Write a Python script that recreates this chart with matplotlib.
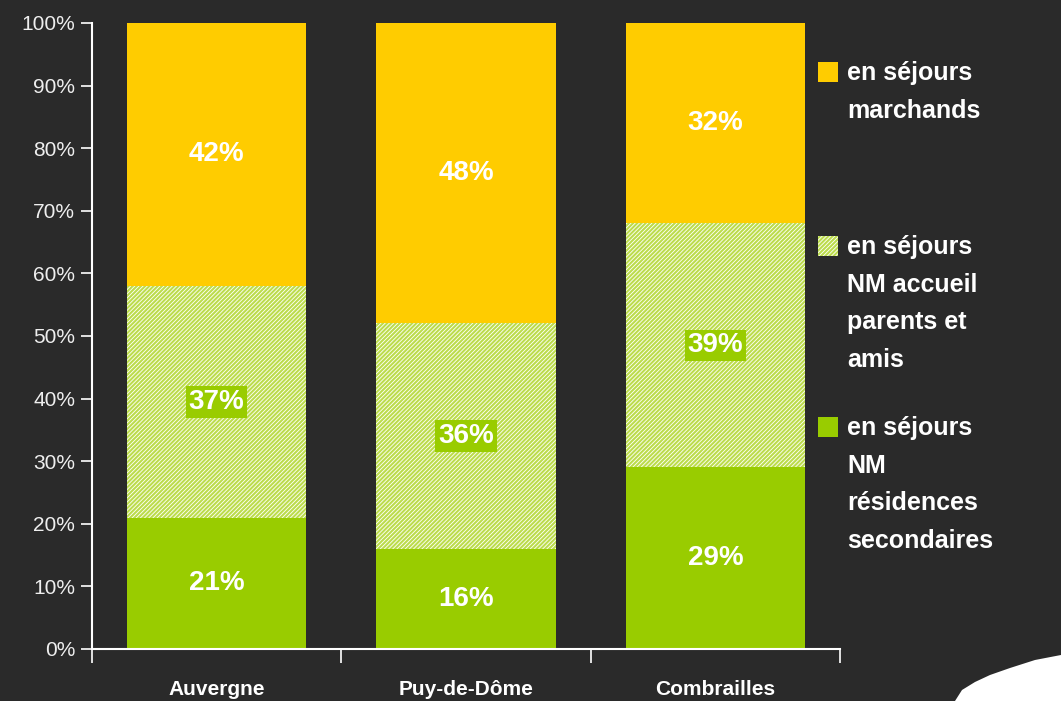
import matplotlib
matplotlib.use("Agg")
import matplotlib.pyplot as plt
from matplotlib.patches import Rectangle, Polygon
import numpy as np

categories = ["Auvergne", "Puy-de-Dôme", "Combrailles"]
series_names = ["en séjours\nNM\nrésidences\nsecondaires",
                "en séjours\nNM accueil\nparents et\namis",
                "en séjours\nmarchands"]
residences = [21, 16, 29]
accueil = [37, 36, 39]
marchands = [42, 48, 32]
yticks = [0, 10, 20, 30, 40, 50, 60, 70, 80, 90, 100]

BG = "#2a2a2a"
GREEN = "#99cc00"
HATCHFACE = "#bcdc4c"
YELLOW = "#ffcc00"

plt.rcParams['font.family'] = ['Liberation Sans', 'DejaVu Sans']
plt.rcParams['hatch.color'] = 'white'
plt.rcParams['hatch.linewidth'] = 0.6

fig = plt.figure(figsize=(10.61, 7.01), dpi=100, facecolor=BG)
ax = fig.add_axes([92/1061, 1-649/701, (840-92)/1061, (649-23)/701])
ax.set_facecolor(BG)

x = np.arange(len(categories))
w = 0.72
ax.bar(x, residences, w, color=GREEN, linewidth=0)
bottom2 = np.array(residences)
ax.bar(x, accueil, w, bottom=bottom2, color=HATCHFACE, hatch='////////', linewidth=0, edgecolor='white')
bottom3 = bottom2 + np.array(accueil)
ax.bar(x, marchands, w, bottom=bottom3, color=YELLOW, linewidth=0)

lab_kw = dict(ha='center', va='center', color='white', fontsize=20, fontweight='bold')
for i in range(len(categories)):
    ax.text(x[i], residences[i]/2, f"{residences[i]}%", **lab_kw)
    ax.text(x[i], bottom2[i] + accueil[i]/2, f"{accueil[i]}%",
            bbox=dict(facecolor=GREEN, edgecolor='none', pad=2), **lab_kw)
    ax.text(x[i], bottom3[i] + marchands[i]/2, f"{marchands[i]}%", **lab_kw)

ax.set_xlim(-0.5, 2.5)
ax.set_ylim(0, 100)
ax.set_yticks(yticks)
ax.set_yticklabels([f"{t}%" for t in yticks], color='#eeeeee', fontsize=15)
ax.set_xticks([-0.5, 0.5, 1.5, 2.5])
ax.set_xticklabels([])
ax.set_xticks(x, minor=True)
ax.set_xticklabels(categories, minor=True, color='white', fontsize=15, fontweight='bold')
ax.tick_params(axis='x', which='major', length=10, width=1.2, color='white', direction='out')
ax.tick_params(axis='x', which='minor', length=0, pad=22)
ax.tick_params(axis='y', length=8, width=1.2, color='white', direction='out', pad=4)
for s in ['top', 'right']:
    ax.spines[s].set_visible(False)
for s in ['left', 'bottom']:
    ax.spines[s].set_color('white')
    ax.spines[s].set_linewidth(1.5)

# legend drawn manually
leg = [(series_names[2], YELLOW, None, 72),
       (series_names[1], HATCHFACE, '////////', 246),
       (series_names[0], GREEN, None, 427)]
for text, col, hatch, ypx in leg:
    r = Rectangle((818/1061, 1-(ypx+10)/701), 20/1061, 20/701, transform=fig.transFigure,
                  facecolor=col, hatch=hatch, edgecolor='white' if hatch else col, linewidth=0)
    fig.patches.append(r)
    fig.text(847/1061, 1-(ypx-11)/701, text, color='white', fontsize=18, fontweight='bold',
             va='top', ha='left', linespacing=1.72)

# decorative white corner shape
pts = [(955, 701), (962, 690), (975, 682), (990, 675), (1010, 668), (1035, 660), (1061, 655), (1061, 701)]
fig.patches.append(Polygon([(px/1061, 1-py/701) for px, py in pts], closed=True,
                           transform=fig.transFigure, facecolor='white', edgecolor='none'))

fig.savefig("out.png", dpi=100, facecolor=BG)
